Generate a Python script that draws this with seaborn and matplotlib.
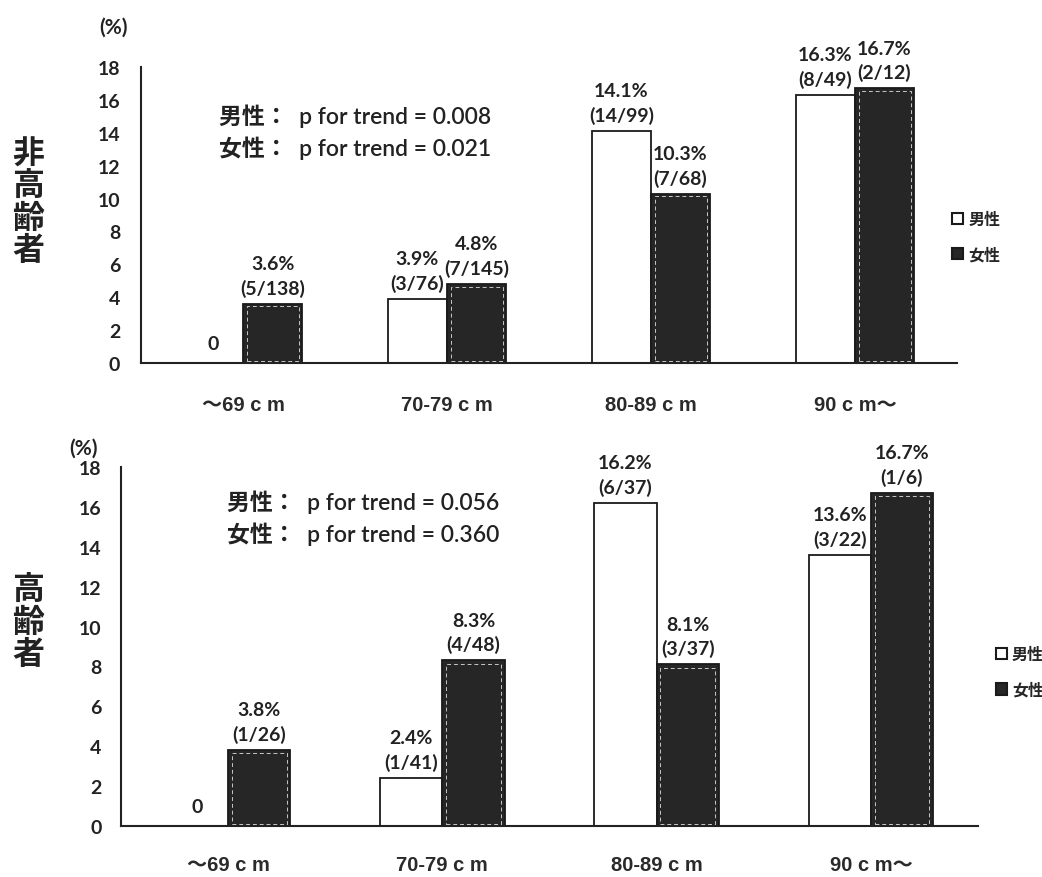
import numpy as np
import pandas as pd
import seaborn as sns
import matplotlib.pyplot as plt
from matplotlib.patches import Patch, Rectangle

# data
groups = ['～69ｃｍ', '70-79ｃｍ', '80-89ｃｍ', '90ｃｍ～']
group_ticks = ['～69 c m', '70-79 c m', '80-89 c m', '90 c m～']
sexes = ['男性', '女性']

young_men = [0.0, 3.9, 14.1, 16.3]
young_women = [3.6, 4.8, 10.3, 16.7]
young_men_n = ['', '(3/76)', '(14/99)', '(8/49)']
young_women_n = ['(5/138)', '(7/145)', '(7/68)', '(2/12)']
young_trend = ['男性：  p for trend = 0.008', '女性：  p for trend = 0.021']

old_men = [0.0, 2.4, 16.2, 13.6]
old_women = [3.8, 8.3, 8.1, 16.7]
old_men_n = ['', '(1/41)', '(6/37)', '(3/22)']
old_women_n = ['(1/26)', '(4/48)', '(3/37)', '(1/6)']
old_trend = ['男性：  p for trend = 0.056', '女性：  p for trend = 0.360']

yticks = list(range(0, 19, 2))

sns.set_style('white')
plt.rcParams['font.family'] = ['Noto Sans CJK JP', 'DejaVu Sans']
num_font = ['Lato', 'Noto Sans CJK JP', 'DejaVu Sans']
tick_font = ['Liberation Sans Narrow', 'Liberation Sans', 'Noto Sans CJK JP']

fig = plt.figure(figsize=(10.42, 8.78), dpi=100)
ax1 = fig.add_axes([0.1353, 0.5854, 0.7831, 0.3371])
ax2 = fig.add_axes([0.1161, 0.0581, 0.8225, 0.4089])


def label(v, n):
    if v == 0:
        return '0'
    return f'{v:.1f}%\n{n}'


def panel(ax, men, women, men_n, women_n, trend, ypad, xpad):
    df = pd.DataFrame({
        'group': groups * 2,
        'sex': [sexes[0]] * 4 + [sexes[1]] * 4,
        'value': men + women,
    })
    sns.barplot(data=df, x='group', y='value', hue='sex', order=groups,
                hue_order=sexes, palette={'男性': 'white', '女性': '#262626'},
                saturation=1, edgecolor='#1a1a1a', linewidth=1.3,
                width=0.58, errorbar=None, legend=False, ax=ax)
    # faint inner dashed border on the dark bars
    for bar in ax.containers[1]:
        x0, y0 = bar.get_x(), bar.get_y()
        w, h = bar.get_width(), bar.get_height()
        ax.add_patch(Rectangle((x0 + w * 0.06, y0 + 0.12), w * 0.88, h - 0.28,
                               fill=False, edgecolor='#c8c8c8', lw=0.7,
                               ls=(0, (4, 3)), zorder=3))
    ax.set_xlim(-0.5, 3.5)
    ax.set_ylim(0, 18)
    ax.set_yticks(yticks)
    ax.set_xticks(range(4))
    ax.set_xticklabels(group_ticks, family=tick_font, fontsize=14.5,
                       fontweight='bold', color='#2a2a2a')
    ax.set_yticklabels([str(t) for t in yticks], family=num_font,
                       fontsize=14, fontweight='bold', color='#222222')
    ax.tick_params(axis='x', length=0, pad=xpad)
    ax.tick_params(axis='y', length=0, pad=ypad)
    ax.set_xlabel('')
    ax.set_ylabel('')
    for s in ['top', 'right']:
        ax.spines[s].set_visible(False)
    for s in ['left', 'bottom']:
        ax.spines[s].set_color('#222222')
        ax.spines[s].set_linewidth(1.5)

    for i in range(4):
        for vals, ns, off in [(men, men_n, -0.145), (women, women_n, 0.145)]:
            v = vals[i]
            ax.annotate(label(v, ns[i]), (i + off, v), xytext=(0, 5 if v else 8),
                        textcoords='offset points', ha='center', va='bottom',
                        fontsize=14, fontweight='bold', family=num_font,
                        color='#222222', linespacing=1.45, annotation_clip=False)

    for k, t in enumerate(trend):
        ax.text(0.105, 0.84 - k * 0.108, t, transform=ax.transAxes,
                fontsize=16.5, family=num_font, color='#222222',
                fontweight='semibold', va='center', ha='left')


panel(ax1, young_men, young_women, young_men_n, young_women_n, young_trend,
      ypad=15, xpad=23)
panel(ax2, old_men, old_women, old_men_n, old_women_n, old_trend,
      ypad=14, xpad=21)

# trend text position in each panel
for k, t in enumerate(ax2.texts[-2:]):
    t.set_position((0.124, 0.905 - k * 0.089))
for k, t in enumerate(ax1.texts[-2:]):
    t.set_position((0.095, 0.838 - k * 0.108))

fig.text(0.109, 0.969, '(%)', fontsize=15, fontweight='bold',
         family=num_font, ha='center', va='center', color='#222222')
fig.text(0.080, 0.489, '(%)', fontsize=15, fontweight='bold',
         family=num_font, ha='center', va='center', color='#222222')

fig.text(0.027, 0.769, '非\n高\n齢\n者', fontsize=23, fontweight='bold',
         ha='center', va='center', linespacing=1.0, color='#222222')
fig.text(0.027, 0.291, '高\n齢\n者', fontsize=23, fontweight='bold',
         ha='center', va='center', linespacing=1.0, color='#222222')

handles = [Patch(facecolor='white', edgecolor='#1a1a1a', lw=1.5),
           Patch(facecolor='#262626', edgecolor='#1a1a1a', lw=1.5)]
for anchor in [(0.900, 0.775), (0.942, 0.279)]:
    fig.legend(handles, sexes, loc='upper left', bbox_to_anchor=anchor,
               frameon=False, handlelength=0.7, handleheight=0.7,
               handletextpad=0.3, labelspacing=1.2,
               prop={'size': 11.5, 'weight': 'bold', 'family': 'Noto Sans CJK JP'})

fig.savefig('out.png', dpi=100, facecolor='white')
